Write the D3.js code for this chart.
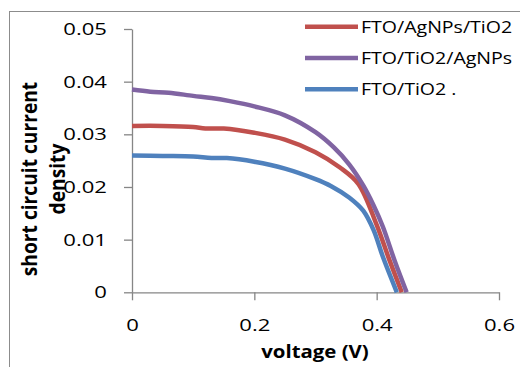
<!DOCTYPE html>
<html>
<head>
<meta charset="utf-8">
<script src="https://cdn.jsdelivr.net/npm/d3@7/dist/d3.min.js"></script>
<style>
  body { margin: 0; background: #fff; }
  svg { display: block; }
  text { font-family: "Open Sans", sans-serif; fill: #000; }
</style>
</head>
<body>
<div id="chart"></div>
<script>
// series as shown in the legend
const seriesNames = ["FTO/AgNPs/TiO2", "FTO/TiO2/AgNPs", "FTO/TiO2 ."];
const seriesColors = ["#C0504D", "#8064A2", "#4F81BD"];

// FTO/AgNPs/TiO2
const voltageRed = [0, 0.05, 0.1, 0.12, 0.15, 0.2, 0.25, 0.3, 0.34, 0.37, 0.4, 0.42, 0.441];
const currentRed = [0.0316, 0.0316, 0.0314, 0.0311, 0.0311, 0.0303, 0.029, 0.0266, 0.0237, 0.0206, 0.0128, 0.0064, 0];

// FTO/TiO2/AgNPs
const voltagePurple = [0, 0.03, 0.06, 0.1, 0.13, 0.16, 0.2, 0.25, 0.3, 0.33, 0.355, 0.378, 0.395, 0.41, 0.43, 0.449];
const currentPurple = [0.0385, 0.0381, 0.0379, 0.0373, 0.0369, 0.0363, 0.0353, 0.0336, 0.0304, 0.0275, 0.0243, 0.0203, 0.0165, 0.0125, 0.0058, 0];

// FTO/TiO2 .
const voltageBlue = [0, 0.05, 0.1, 0.13, 0.155, 0.2, 0.25, 0.3, 0.325, 0.355, 0.378, 0.395, 0.41, 0.433];
const currentBlue = [0.026, 0.0259, 0.0258, 0.0255, 0.0255, 0.0248, 0.0235, 0.0215, 0.0202, 0.018, 0.0155, 0.0118, 0.0068, 0];

const xTicks = [0, 0.2, 0.4, 0.6];
const yTicks = [0, 0.01, 0.02, 0.03, 0.04, 0.05];
const xTitle = "voltage (V)";
const yTitleLines = ["short circuit current", "density"];

const width = 520, height = 367;
const SX = 1.3; // the picture is stretched sideways a bit

const svg = d3.select("#chart").append("svg")
  .attr("width", width)
  .attr("height", height);

// chart frame (runs off the right and bottom edge)
svg.append("rect")
  .attr("x", 9.5).attr("y", 11.5)
  .attr("width", 530).attr("height", 370)
  .attr("fill", "none")
  .attr("stroke", "#8c8c8c")
  .attr("stroke-width", 1);

const x = d3.scaleLinear().domain([0, 0.6]).range([132, 499]);
const y = d3.scaleLinear().domain([0, 0.05]).range([292.3, 29]);

const axisColor = "#868686";

const gx = svg.append("g")
  .attr("transform", `translate(0,${y(0)})`)
  .call(d3.axisBottom(x).tickValues(xTicks).tickFormat(d3.format("")).tickSize(8).tickSizeOuter(0));

const gy = svg.append("g")
  .attr("transform", `translate(${x(0)},0)`)
  .call(d3.axisLeft(y).tickValues(yTicks).tickFormat(d3.format("")).tickSize(8).tickSizeOuter(0));

[gx, gy].forEach(g => {
  g.select(".domain").attr("stroke", axisColor).attr("stroke-width", 1.3);
  g.selectAll(".tick line").attr("stroke", axisColor).attr("stroke-width", 1.3);
  g.selectAll(".tick text")
    .attr("fill", "#000")
    .style("font-size", "17px")
    .style("font-family", '"Open Sans", sans-serif');
});

gx.selectAll(".tick text")
  .attr("y", 27)
  .attr("transform", `scale(${SX},1)`);

gy.selectAll(".tick text")
  .attr("x", -25 / SX)
  .attr("transform", `scale(${SX},1)`);

// lines
const series = [
  { v: voltageRed, j: currentRed },
  { v: voltagePurple, j: currentPurple },
  { v: voltageBlue, j: currentBlue }
];

const line = d3.line()
  .x(d => x(d[0]))
  .y(d => y(d[1]))
  .curve(d3.curveCatmullRom.alpha(0.5));

svg.append("g")
  .selectAll("path")
  .data(series)
  .join("path")
  .attr("fill", "none")
  .attr("stroke", (d, i) => seriesColors[i])
  .attr("stroke-width", 4.5)
  .attr("stroke-linejoin", "round")
  .attr("d", d => line(d.v.map((v, k) => [v, d.j[k]])));

// legend
const legendY = [26.7, 58, 89.3];
const legend = svg.append("g")
  .selectAll("g")
  .data(seriesNames)
  .join("g")
  .attr("transform", (d, i) => `translate(0,${legendY[i]})`);

legend.append("line")
  .attr("x1", 305).attr("x2", 358)
  .attr("stroke", (d, i) => seriesColors[i])
  .attr("stroke-width", 4.5);

legend.append("text")
  .attr("transform", `translate(361,0) scale(1.15,1)`)
  .attr("dy", "0.36em")
  .style("font-size", "17px")
  .text(d => d);

// axis titles
svg.append("text")
  .attr("transform", `translate(315,352) scale(1.2,1)`)
  .attr("text-anchor", "middle")
  .attr("dy", "0.36em")
  .style("font-size", "17px")
  .style("font-weight", "bold")
  .text(xTitle);

const titleX = [29.5, 57.5];
svg.append("g")
  .selectAll("text")
  .data(yTitleLines)
  .join("text")
  .attr("transform", (d, i) => `translate(${titleX[i]},179) rotate(-90) scale(1.2,1.28)`)
  .attr("text-anchor", "middle")
  .attr("dy", "0.36em")
  .style("font-size", "16px")
  .style("font-weight", "bold")
  .text(d => d);
</script>
</body>
</html>
